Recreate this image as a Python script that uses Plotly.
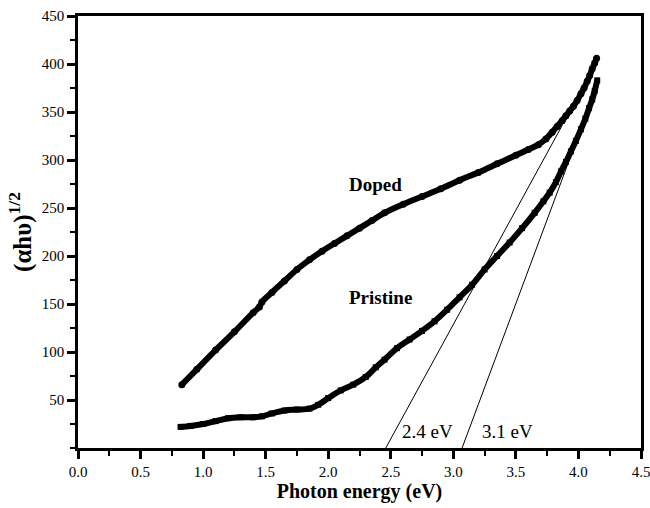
import plotly.graph_objects as go

# Doped sample (circles)
doped_x = [0.83, 0.95, 1.10, 1.25, 1.40, 1.45, 1.47, 1.55, 1.65, 1.75, 1.85, 1.95, 2.05,
           2.15, 2.25, 2.35, 2.45, 2.60, 2.75, 2.90, 3.05, 3.20, 3.35, 3.50, 3.60, 3.68,
           3.74, 3.79, 3.83, 3.87, 3.90, 3.93, 3.96, 3.99, 4.02, 4.045, 4.07, 4.09, 4.11,
           4.13, 4.145]
doped_y = [66, 82, 102, 121, 141, 147, 152, 162, 174, 186, 196, 205, 213,
           221, 229, 237, 245, 254, 262, 270, 279, 287, 296, 305, 311, 316,
           322, 329, 335, 341, 346, 351, 356, 362, 369, 375, 382, 388, 395,
           401, 406]

# Pristine sample (squares)
pristine_x = [0.82, 0.90, 1.00, 1.10, 1.20, 1.30, 1.40, 1.47, 1.55, 1.65, 1.75, 1.85, 1.92,
              2.00, 2.10, 2.20, 2.30, 2.38, 2.45, 2.55, 2.65, 2.75, 2.85, 2.95, 3.05, 3.15,
              3.25, 3.35, 3.45, 3.55, 3.65, 3.72, 3.77, 3.82, 3.86, 3.90, 3.94, 3.98, 4.02,
              4.055, 4.085, 4.11, 4.13, 4.15]
pristine_y = [22, 23, 25, 28, 31, 32, 32, 33, 36, 39, 40, 41, 45,
              52, 60, 66, 74, 84, 92, 104, 113, 122, 132, 144, 157, 170,
              186, 200, 214, 229, 245, 257, 266, 277, 288, 298, 309, 320, 332,
              343, 354, 363, 372, 383]

# Tangent (Tauc) extrapolation lines
fit1_x = [2.46, 3.87]
fit1_y = [0, 336]
fit2_x = [3.07, 3.93]
fit2_y = [0, 301]

x_ticks = [0.0, 0.5, 1.0, 1.5, 2.0, 2.5, 3.0, 3.5, 4.0, 4.5]
y_ticks = [50, 100, 150, 200, 250, 300, 350, 400, 450]

FONT = "Liberation Serif"

fig = go.Figure()
fig.add_trace(go.Scatter(x=doped_x, y=doped_y, mode="lines+markers",
                         line=dict(color="black", width=6, shape="spline"),
                         marker=dict(symbol="circle", size=7, color="black"),
                         showlegend=False))
fig.add_trace(go.Scatter(x=pristine_x, y=pristine_y, mode="lines+markers",
                         line=dict(color="black", width=6, shape="spline"),
                         marker=dict(symbol="square", size=6, color="black"),
                         showlegend=False))
fig.add_trace(go.Scatter(x=fit1_x, y=fit1_y, mode="lines",
                         line=dict(color="black", width=1), showlegend=False))
fig.add_trace(go.Scatter(x=fit2_x, y=fit2_y, mode="lines",
                         line=dict(color="black", width=1), showlegend=False))

annots = [
    dict(x=2.376, y=274, text="<b>Doped</b>", size=19),
    dict(x=2.416, y=157, text="<b>Pristine</b>", size=19),
    dict(x=2.79, y=17, text="2.4 eV", size=19),
    dict(x=3.43, y=17, text="3.1 eV", size=19),
]
for a in annots:
    fig.add_annotation(x=a["x"], y=a["y"], text=a["text"], showarrow=False,
                       font=dict(family=FONT, size=a["size"], color="black"),
                       xanchor="center", yanchor="middle")

fig.update_layout(
    width=650, height=508,
    margin=dict(l=78, r=9, t=16, b=60, autoexpand=False),
    paper_bgcolor="white", plot_bgcolor="white",
    font=dict(family=FONT, color="black", size=15),
    xaxis=dict(range=[0, 4.5], tickvals=x_ticks, automargin=False,
               ticklabeloverflow="allow",
               ticktext=[f"{v:.1f}" for v in x_ticks],
               showgrid=False, zeroline=False, showline=True, linecolor="black",
               linewidth=2.5, mirror=True, ticks="outside", ticklen=8, tickwidth=2.5,
               tickcolor="black",
               minor=dict(dtick=0.25, ticks="outside", ticklen=5, tickwidth=2, tickcolor="black"),
               title=dict(text="<b>Photon energy (eV)</b>", font=dict(size=20), standoff=4)),
    yaxis=dict(range=[0, 450], tickvals=y_ticks, automargin=False,
               ticklabeloverflow="allow",
               showgrid=False, zeroline=False, showline=True, linecolor="black",
               linewidth=2.5, mirror=True, ticks="outside", ticklen=8, tickwidth=2.5,
               tickcolor="black",
               minor=dict(tick0=0, dtick=25, ticks="outside", ticklen=5, tickwidth=2, tickcolor="black"),
               title=dict(text="<b>(αhυ)<sup>1/2</sup></b>", font=dict(size=25), standoff=4)),
)

fig.write_html("out.html")
